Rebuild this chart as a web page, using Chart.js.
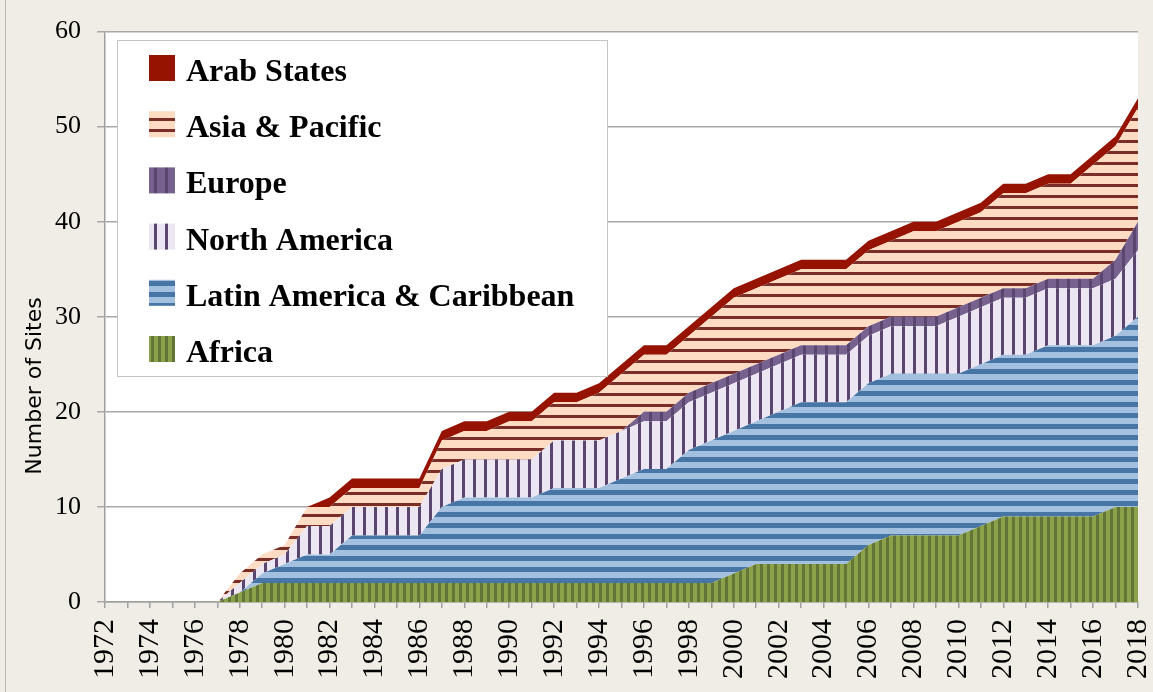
<!DOCTYPE html>
<html>
<head>
<meta charset="utf-8">
<script src="https://cdn.jsdelivr.net/npm/chart.js@4"></script>
<style>
  html, body { margin: 0; padding: 0; background: #efede5; }
  canvas { display: block; }
</style>
</head>
<body>
<canvas id="sitesChart" width="1153" height="692"></canvas>
<script>
// Years on the x axis
const years = [
  '1972','1973','1974','1975','1976','1977','1978','1979',
  '1980','1981','1982','1983','1984','1985','1986','1987','1988','1989',
  '1990','1991','1992','1993','1994','1995','1996','1997','1998','1999',
  '2000','2001','2002','2003','2004','2005','2006','2007','2008','2009',
  '2010','2011','2012','2013','2014','2015','2016','2017','2018'
];

// Number of sites per region (stacked)
const africa = [
  0,0,0,0,0,0,1,2,
  2,2,2,2,2,2,2,2,2,2,
  2,2,2,2,2,2,2,2,2,2,
  3,4,4,4,4,4,6,7,7,7,
  7,8,9,9,9,9,9,10,10
];
const latinAmerica = [
  0,0,0,0,0,0,0,1,
  2,3,3,5,5,5,5,8,9,9,
  9,9,10,10,10,11,12,12,14,15,
  15,15,16,17,17,17,17,17,17,17,
  17,17,17,17,18,18,18,18,20
];
const northAmerica = [
  0,0,0,0,0,0,1,1,
  1,3,3,3,3,3,3,4,4,4,
  4,4,5,5,5,5,5,5,5,5,
  5,5,5,5,5,5,5,5,5,5,
  6,6,6,6,6,6,6,6,7
];
const europe = [
  0,0,0,0,0,0,0,0,
  0,0,0,0,0,0,0,0,0,0,
  0,0,0,0,0,0,1,1,1,1,
  1,1,1,1,1,1,1,1,1,1,
  1,1,1,1,1,1,1,2,3
];
const asiaPacific = [
  0,0,0,0,0,0,1,1,
  1,2,2,2,2,2,2,3,3,3,
  4,4,4,4,5,6,6,6,6,7,
  8,8,8,8,8,8,8,8,9,9,
  9,9,10,10,10,10,12,12,12
];
const arabStates = [
  0,0,0,0,0,0,0,0,
  0,0,1,1,1,1,1,1,1,1,
  1,1,1,1,1,1,1,1,1,1,
  1,1,1,1,1,1,1,1,1,1,
  1,1,1,1,1,1,1,1,1
];

const yTicks = [0, 10, 20, 30, 40, 50, 60];

// Striped fills
function makePattern(w, h, draw) {
  const c = document.createElement('canvas');
  c.width = w; c.height = h;
  const g = c.getContext('2d');
  draw(g, w, h);
  return document.getElementById('sitesChart').getContext('2d').createPattern(c, 'repeat');
}

const africaFill = makePattern(7, 1, (g) => {
  g.fillStyle = '#8ba24b'; g.fillRect(0, 0, 7, 1);
  g.fillStyle = '#627537'; g.fillRect(4, 0, 3, 1);
});
const latinFill = makePattern(1, 11, (g) => {
  g.fillStyle = '#a3c0de'; g.fillRect(0, 0, 1, 11);
  g.fillStyle = '#4675a6'; g.fillRect(0, 6, 1, 5);
});
const northFill = makePattern(11, 1, (g) => {
  g.fillStyle = '#ebe6f1'; g.fillRect(0, 0, 11, 1);
  g.fillStyle = '#5a456f'; g.fillRect(0, 0, 3, 1);
});
const europeFill = makePattern(11, 1, (g) => {
  g.fillStyle = '#77618f'; g.fillRect(0, 0, 11, 1);
  g.fillStyle = '#5a456f'; g.fillRect(0, 0, 3, 1);
});
const asiaFill = makePattern(1, 11, (g) => {
  g.fillStyle = '#fddcc3'; g.fillRect(0, 0, 1, 11);
  g.fillStyle = '#7b2e28'; g.fillRect(0, 8, 1, 3);
});
const arabFill = '#951300';

function series(label, data, fill, bg) {
  return {
    label: label,
    data: data,
    fill: fill,
    backgroundColor: bg,
    borderColor: 'rgba(0,0,0,0)',
    borderWidth: 0,
    pointRadius: 0,
    pointHoverRadius: 0,
    tension: 0
  };
}

// Background: beige frame, white plot area
const backdrop = {
  id: 'backdrop',
  beforeDraw(chart) {
    const { ctx, chartArea: a } = chart;
    ctx.save();
    ctx.fillStyle = '#efede5';
    ctx.fillRect(0, 0, chart.width, chart.height);
    ctx.fillStyle = '#ffffff';
    ctx.fillRect(a.left, a.top, a.right - a.left, a.bottom - a.top);
    ctx.strokeStyle = '#b9b9b9';
    ctx.lineWidth = 1;
    ctx.beginPath();
    ctx.moveTo(5.5, 0);
    ctx.lineTo(5.5, chart.height);
    ctx.stroke();
    ctx.restore();
  }
};

// Y axis title, sitting lower than the middle like the original
const yTitle = {
  id: 'yTitle',
  afterDraw(chart) {
    const ctx = chart.ctx;
    ctx.save();
    ctx.translate(35, 386);
    ctx.rotate(-Math.PI / 2);
    ctx.font = '22px "DejaVu Sans"';
    ctx.fillStyle = '#000';
    ctx.textAlign = 'center';
    ctx.textBaseline = 'middle';
    ctx.fillText('Number of Sites', 0, 0);
    ctx.restore();
  }
};

// Boxed legend inside the plot area
const boxLegend = {
  id: 'boxLegend',
  afterDraw(chart) {
    const ctx = chart.ctx;
    ctx.save();
    ctx.fillStyle = '#ffffff';
    ctx.fillRect(117.5, 40.5, 490, 336);
    ctx.strokeStyle = '#c4c4c4';
    ctx.lineWidth = 1;
    ctx.strokeRect(117.5, 40.5, 490, 336);
    const items = chart.data.datasets.slice().reverse();
    items.forEach((d, i) => {
      const y = 55 + i * 56.2;
      ctx.fillStyle = d.backgroundColor;
      ctx.fillRect(149, y, 26, 26);
      ctx.fillStyle = '#000';
      ctx.font = 'bold 32px "Liberation Serif"';
      ctx.textBaseline = 'alphabetic';
      ctx.fillText(d.label, 186, y + 26);
    });
    ctx.restore();
  }
};

const ctx = document.getElementById('sitesChart').getContext('2d');
new Chart(ctx, {
  type: 'line',
  data: {
    labels: years,
    datasets: [
      series('Africa', africa, 'origin', africaFill),
      series('Latin America & Caribbean', latinAmerica, '-1', latinFill),
      series('North America', northAmerica, '-1', northFill),
      series('Europe', europe, '-1', europeFill),
      series('Asia & Pacific', asiaPacific, '-1', asiaFill),
      series('Arab States', arabStates, '-1', arabFill)
    ]
  },
  options: {
    responsive: false,
    animation: false,
    events: [],
    layout: { autoPadding: false, padding: { top: 26, right: 15, left: 0, bottom: 0 } },
    plugins: {
      legend: { display: false },
      tooltip: { enabled: false }
    },
    scales: {
      x: {
        type: 'category',
        offset: false,
        afterFit: (scale) => {
          scale.height = 90;
          scale.paddingLeft = 0;
          scale.paddingRight = 0;
        },
        grid: {
          drawOnChartArea: false,
          drawTicks: true,
          tickLength: 6,
          color: '#a0a0a0',
          lineWidth: 1.5
        },
        border: { display: true, color: '#a0a0a0', width: 1.5 },
        ticks: {
          autoSkip: false,
          minRotation: 90,
          maxRotation: 90,
          padding: 11,
          color: '#000',
          font: { family: '"Liberation Serif"', size: 30 },
          callback: function (value, index) {
            return index % 2 === 0 ? this.getLabelForValue(value) : '';
          }
        }
      },
      y: {
        stacked: true,
        min: yTicks[0],
        max: yTicks[yTicks.length - 1],
        afterFit: (scale) => { scale.width = 105; },
        afterBuildTicks: (scale) => { scale.ticks = yTicks.map(v => ({ value: v })); },
        grid: {
          color: '#a8a8a8',
          lineWidth: 1.5,
          tickLength: 8
        },
        border: { display: true, color: '#a0a0a0', width: 1.5 },
        ticks: {
          padding: 16,
          color: '#000',
          font: { family: '"Liberation Serif"', size: 26 }
        }
      }
    }
  },
  plugins: [backdrop, yTitle, boxLegend]
});
</script>
</body>
</html>
